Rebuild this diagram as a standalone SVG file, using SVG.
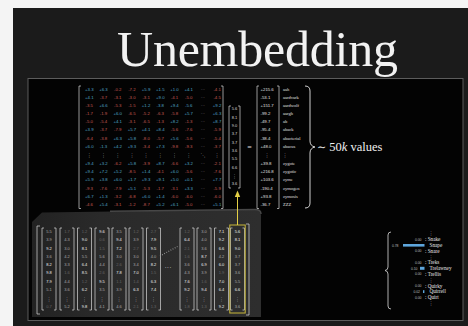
<svg xmlns="http://www.w3.org/2000/svg" width="468" height="326" viewBox="0 0 468 326">
<defs>
<style>
.mx{font-family:"Liberation Sans",Arial,sans-serif;font-size:4.3px;text-anchor:middle}
.p{fill:#52a7c9}.n{fill:#c85b55}.d{fill:#8a8a8a}
.vd{font-family:"DejaVu Sans",sans-serif;font-size:5px;fill:#bbb;text-anchor:middle}
.br{fill:none;stroke:#d8d8d8;stroke-width:0.7}
.ev{font-family:"Liberation Sans",Arial,sans-serif;font-size:4px;fill:#d8d8d8;text-anchor:middle}
.rv{font-family:"Liberation Sans",Arial,sans-serif;font-size:4.3px;fill:#e0e0e0}
.wd{font-family:"Liberation Serif","Times New Roman",serif;font-size:4.5px;fill:#e0e0e0}
.bv{font-family:"Liberation Sans",Arial,sans-serif;font-size:4px;text-anchor:middle}
.h{fill:#f0f0f0}.m{fill:#a8a8a8}.l{fill:#666}
.pw{font-family:"Liberation Serif","Times New Roman",serif;font-size:5.2px;fill:#e6e6e6}
.pn{font-family:"Liberation Sans",Arial,sans-serif;font-size:3.4px;fill:#bdbdbd;text-anchor:end}
.bar{fill:#5ea6dc}
</style>
<linearGradient id="gbox" x1="0" y1="0" x2="1" y2="0">
<stop offset="0" stop-color="#222"/>
<stop offset="0.3" stop-color="#2a2a2a"/>
<stop offset="1" stop-color="#2e2e2e"/>
</linearGradient>
</defs>

<rect x="0" y="0" width="468" height="326" fill="#f4f4f4"/>
<rect x="13" y="8" width="455" height="318" fill="#1b1b1b"/>
<rect x="28" y="78.5" width="435" height="242" fill="#030303" stroke="#5c5c5c" stroke-width="1"/>

<g id="title">
<text x="117" y="66" font-family="'Liberation Serif','Times New Roman',serif" font-size="50" fill="#f2f2f2" textLength="281" lengthAdjust="spacing">Unembedding</text>
</g>

<g id="unembedding-matrix">
<path class="br" d="M81,86 h-2 v122.5 h2"/>
<path class="br" d="M221,86 h2 v122.5 h-2"/>
<text class="mx" y="90.8"><tspan class="p" x="89.3">+3.3</tspan><tspan class="p" x="103.5">+6.3</tspan><tspan class="n" x="117.7">-0.2</tspan><tspan class="n" x="131.9">-7.2</tspan><tspan class="p" x="146.1">+5.9</tspan><tspan class="p" x="160.3">+1.5</tspan><tspan class="p" x="174.5">+1.0</tspan><tspan class="p" x="188.7">+4.1</tspan><tspan class="d" x="202.9">···</tspan><tspan class="n" x="217.1">-4.1</tspan></text>
<text class="mx" y="98.9"><tspan class="p" x="89.3">+4.1</tspan><tspan class="n" x="103.5">-3.7</tspan><tspan class="n" x="117.7">-3.1</tspan><tspan class="n" x="131.9">-3.0</tspan><tspan class="n" x="146.1">-3.1</tspan><tspan class="p" x="160.3">+9.0</tspan><tspan class="n" x="174.5">-4.1</tspan><tspan class="n" x="188.7">-5.0</tspan><tspan class="d" x="202.9">···</tspan><tspan class="n" x="217.1">-4.5</tspan></text>
<text class="mx" y="107"><tspan class="n" x="89.3">-3.5</tspan><tspan class="p" x="103.5">+6.6</tspan><tspan class="n" x="117.7">-5.3</tspan><tspan class="n" x="131.9">-1.5</tspan><tspan class="p" x="146.1">+1.2</tspan><tspan class="p" x="160.3">-3.8</tspan><tspan class="p" x="174.5">+9.4</tspan><tspan class="p" x="188.7">-5.6</tspan><tspan class="d" x="202.9">···</tspan><tspan class="p" x="217.1">+9.2</tspan></text>
<text class="mx" y="115.1"><tspan class="n" x="89.3">-1.7</tspan><tspan class="n" x="103.5">-1.9</tspan><tspan class="p" x="117.7">+6.0</tspan><tspan class="n" x="131.9">-6.5</tspan><tspan class="n" x="146.1">-5.2</tspan><tspan class="n" x="160.3">-6.3</tspan><tspan class="n" x="174.5">-5.8</tspan><tspan class="p" x="188.7">+5.7</tspan><tspan class="d" x="202.9">···</tspan><tspan class="p" x="217.1">+6.3</tspan></text>
<text class="mx" y="123.2"><tspan class="n" x="89.3">-5.0</tspan><tspan class="n" x="103.5">-5.4</tspan><tspan class="p" x="117.7">+4.1</tspan><tspan class="n" x="131.9">-3.1</tspan><tspan class="n" x="146.1">-6.5</tspan><tspan class="n" x="160.3">-1.3</tspan><tspan class="p" x="174.5">+8.2</tspan><tspan class="n" x="188.7">-1.3</tspan><tspan class="d" x="202.9">···</tspan><tspan class="p" x="217.1">+8.7</tspan></text>
<text class="mx" y="131.4"><tspan class="p" x="89.3">+3.9</tspan><tspan class="n" x="103.5">-3.7</tspan><tspan class="n" x="117.7">-7.9</tspan><tspan class="p" x="131.9">+5.7</tspan><tspan class="p" x="146.1">+4.1</tspan><tspan class="p" x="160.3">+8.4</tspan><tspan class="n" x="174.5">-5.6</tspan><tspan class="n" x="188.7">-7.6</tspan><tspan class="d" x="202.9">···</tspan><tspan class="n" x="217.1">-5.9</tspan></text>
<text class="mx" y="139.6"><tspan class="n" x="89.3">-6.4</tspan><tspan class="n" x="103.5">-3.8</tspan><tspan class="p" x="117.7">+6.3</tspan><tspan class="p" x="131.9">+5.8</tspan><tspan class="n" x="146.1">-8.0</tspan><tspan class="n" x="160.3">-5.7</tspan><tspan class="p" x="174.5">+5.6</tspan><tspan class="n" x="188.7">-5.6</tspan><tspan class="d" x="202.9">···</tspan><tspan class="n" x="217.1">-5.4</tspan></text>
<text class="mx" y="147.8"><tspan class="p" x="89.3">+6.0</tspan><tspan class="p" x="103.5">-1.3</tspan><tspan class="p" x="117.7">+4.2</tspan><tspan class="p" x="131.9">+9.3</tspan><tspan class="n" x="146.1">-3.4</tspan><tspan class="p" x="160.3">+7.3</tspan><tspan class="n" x="174.5">-9.8</tspan><tspan class="n" x="188.7">-9.3</tspan><tspan class="d" x="202.9">···</tspan><tspan class="n" x="217.1">-3.7</tspan></text>
<text class="vd" y="157.2"><tspan x="89.3">⋮</tspan><tspan x="103.5">⋮</tspan><tspan x="117.7">⋮</tspan><tspan x="131.9">⋮</tspan><tspan x="146.1">⋮</tspan><tspan x="160.3">⋮</tspan><tspan x="174.5">⋮</tspan><tspan x="188.7">⋮</tspan><tspan x="202.9">⋱</tspan><tspan x="217.1">⋮</tspan></text>
<text class="mx" y="165"><tspan class="p" x="89.3">+9.4</tspan><tspan class="p" x="103.5">+3.2</tspan><tspan class="n" x="117.7">-6.2</tspan><tspan class="p" x="131.9">+5.8</tspan><tspan class="n" x="146.1">-3.9</tspan><tspan class="p" x="160.3">+8.7</tspan><tspan class="n" x="174.5">-6.6</tspan><tspan class="p" x="188.7">+3.2</tspan><tspan class="d" x="202.9">···</tspan><tspan class="n" x="217.1">-2.1</tspan></text>
<text class="mx" y="173.2"><tspan class="p" x="89.3">+9.4</tspan><tspan class="p" x="103.5">+7.2</tspan><tspan class="p" x="117.7">+5.2</tspan><tspan class="n" x="131.9">-8.5</tspan><tspan class="p" x="146.1">+1.4</tspan><tspan class="n" x="160.3">-4.1</tspan><tspan class="p" x="174.5">+6.0</tspan><tspan class="n" x="188.7">-5.6</tspan><tspan class="d" x="202.9">···</tspan><tspan class="n" x="217.1">-7.6</tspan></text>
<text class="mx" y="181.4"><tspan class="p" x="89.3">+5.9</tspan><tspan class="p" x="103.5">+3.8</tspan><tspan class="p" x="117.7">+6.0</tspan><tspan class="p" x="131.9">+1.7</tspan><tspan class="p" x="146.1">+9.3</tspan><tspan class="p" x="160.3">+9.1</tspan><tspan class="p" x="174.5">+5.0</tspan><tspan class="p" x="188.7">+0.1</tspan><tspan class="d" x="202.9">···</tspan><tspan class="p" x="217.1">+7.7</tspan></text>
<text class="mx" y="189.6"><tspan class="n" x="89.3">-9.3</tspan><tspan class="n" x="103.5">-7.6</tspan><tspan class="n" x="117.7">-7.9</tspan><tspan class="p" x="131.9">+5.1</tspan><tspan class="n" x="146.1">-5.3</tspan><tspan class="n" x="160.3">-1.7</tspan><tspan class="n" x="174.5">-3.1</tspan><tspan class="p" x="188.7">+3.3</tspan><tspan class="d" x="202.9">···</tspan><tspan class="n" x="217.1">-5.9</tspan></text>
<text class="mx" y="197.8"><tspan class="p" x="89.3">+6.7</tspan><tspan class="p" x="103.5">+1.3</tspan><tspan class="n" x="117.7">-3.2</tspan><tspan class="n" x="131.9">-6.8</tspan><tspan class="p" x="146.1">+6.0</tspan><tspan class="p" x="160.3">+1.4</tspan><tspan class="n" x="174.5">-6.0</tspan><tspan class="n" x="188.7">-6.0</tspan><tspan class="d" x="202.9">···</tspan><tspan class="n" x="217.1">-6.0</tspan></text>
<text class="mx" y="205.9"><tspan class="n" x="89.3">-4.6</tspan><tspan class="p" x="103.5">+5.4</tspan><tspan class="n" x="117.7">-3.1</tspan><tspan class="n" x="131.9">-1.2</tspan><tspan class="n" x="146.1">-8.7</tspan><tspan class="p" x="160.3">+5.2</tspan><tspan class="p" x="174.5">+6.1</tspan><tspan class="n" x="188.7">-5.0</tspan><tspan class="d" x="202.9">···</tspan><tspan class="p" x="217.1">+5.1</tspan></text>
</g>

<g id="embedding-vector">
<path class="br" d="M231,106 h-2 v82 h2"/>
<path class="br" d="M238,106 h2 v82 h-2"/>
<text class="ev" y="110.4"><tspan x="234.5">5.6</tspan></text>
<text class="ev" y="118.7"><tspan x="234.5">8.1</tspan></text>
<text class="ev" y="127"><tspan x="234.5">9.0</tspan></text>
<text class="ev" y="135.3"><tspan x="234.5">3.7</tspan></text>
<text class="ev" y="143.6"><tspan x="234.5">3.7</tspan></text>
<text class="ev" y="151.9"><tspan x="234.5">3.6</tspan></text>
<text class="ev" y="160.2"><tspan x="234.5">5.5</tspan></text>
<text class="ev" y="168.5"><tspan x="234.5">6.6</tspan></text>
<text class="vd" y="177.5" x="234.5">⋮</text>
<text class="ev" y="185.4"><tspan x="234.5">3.6</tspan></text>
</g>

<g id="equals">
<text x="249.5" y="149.5" font-family="'Liberation Serif',serif" font-size="8" fill="#ddd" text-anchor="middle">=</text>
</g>

<g id="logits">
<path class="br" d="M259,86 h-2 v122.5 h2"/>
<path class="br" d="M277,86 h2 v122.5 h-2"/>
<text class="rv" x="260.5" y="90.8">+215.6</text>
<text class="rv" x="260.5" y="98.9">-53.1</text>
<text class="rv" x="260.5" y="107">+151.7</text>
<text class="rv" x="260.5" y="115.1">-99.2</text>
<text class="rv" x="260.5" y="123.2">-49.7</text>
<text class="rv" x="260.5" y="131.4">-95.4</text>
<text class="rv" x="260.5" y="139.6">-38.4</text>
<text class="rv" x="260.5" y="147.8">+48.0</text>
<text class="vd" x="267" y="157.2">⋮</text>
<text class="rv" x="260.5" y="165">+39.8</text>
<text class="rv" x="260.5" y="173.2">+216.8</text>
<text class="rv" x="260.5" y="181.4">+103.6</text>
<text class="rv" x="260.5" y="189.6">-190.4</text>
<text class="rv" x="260.5" y="197.8">+93.8</text>
<text class="rv" x="260.5" y="205.9">-36.7</text>
<text class="wd" x="283" y="90.8">aah</text>
<text class="wd" x="283" y="98.9">aardvark</text>
<text class="wd" x="283" y="107">aardwolf</text>
<text class="wd" x="283" y="115.1">aargh</text>
<text class="wd" x="283" y="123.2">ab</text>
<text class="wd" x="283" y="131.4">aback</text>
<text class="wd" x="283" y="139.6">abacterial</text>
<text class="wd" x="283" y="147.8">abacus</text>
<text class="vd" x="285" y="157.2">⋮</text>
<text class="wd" x="283" y="165">zygote</text>
<text class="wd" x="283" y="173.2">zygotic</text>
<text class="wd" x="283" y="181.4">zyme</text>
<text class="wd" x="283" y="189.6">zymogen</text>
<text class="wd" x="283" y="197.8">zymosis</text>
<text class="wd" x="283" y="205.9">ZZZ</text>
<path d="M305,86 q5,0 5,5 v50 q0,5 5,6 q-5,1 -5,6 v50 q0,5 -5,5" fill="none" stroke="#e6e6e6" stroke-width="0.9"/>
<text x="317" y="151" font-family="'Liberation Serif','DejaVu Serif',serif" font-size="12.5" fill="#f0f0f0"><tspan font-family="'DejaVu Serif',serif" font-size="11">∼</tspan> 50<tspan font-style="italic">k</tspan> values</text>
</g>

<g id="embeddings-box">
<path d="M42,212.5 L255,209.5 Q261,209.5 261,215.5 L261,317 L32,317 L32,222 Z" fill="url(#gbox)"/>
<path d="M110,211.2 L255,209.5 Q261,209.5 261,214" fill="none" stroke="#474747" stroke-width="1.5"/>
<path class="br" d="M40,226 h-3 v88 h3"/>
<path class="br" d="M246,224 h3 v91 h-3"/>
<g class="br">
<path d="M44,228 h-2 v82 h2 M54,228 h2 v82 h-2"/>
<path d="M62,228 h-2 v82 h2 M72,228 h2 v82 h-2"/>
<path d="M79.5,228 h-2 v82 h2 M89.5,228 h2 v82 h-2"/>
<path d="M97,228 h-2 v82 h2 M107,228 h2 v82 h-2"/>
<path d="M114,228 h-2 v82 h2 M124,228 h2 v82 h-2"/>
<path d="M131,228 h-2 v82 h2 M141,228 h2 v82 h-2"/>
<path d="M148.5,228 h-2 v82 h2 M158.5,228 h2 v82 h-2"/>
<path d="M182,228 h-2 v82 h2 M192,228 h2 v82 h-2"/>
<path d="M199,228 h-2 v82 h2 M209,228 h2 v82 h-2"/>
<path d="M216.5,228 h-2 v82 h2 M226.5,228 h2 v82 h-2"/>
<path d="M232.5,228 h-2 v82 h2 M242.5,228 h2 v82 h-2"/>
</g>
<rect x="229.8" y="225" width="15.4" height="88" fill="none" stroke="#c9b83a" stroke-width="1"/>
<line x1="160" y1="256" x2="177.5" y2="246.5" stroke="#9a9a9a" stroke-width="1.2" stroke-dasharray="0.8 1.6"/>
<text x="168" y="269.5" font-family="'Liberation Sans',sans-serif" font-size="7" fill="#bbb" text-anchor="middle">···</text>
<text class="bv" y="232.9"><tspan class="m" x="49">5.5</tspan><tspan class="l" x="67">1.7</tspan><tspan class="l" x="84.5">1.2</tspan><tspan class="h" x="102">9.6</tspan><tspan class="m" x="119">3.5</tspan><tspan class="l" x="136">1.2</tspan><tspan class="l" x="153.5">2.7</tspan><tspan class="l" x="187">1.2</tspan><tspan class="m" x="204">3.0</tspan><tspan class="h" x="221.5">7.1</tspan><tspan class="h" x="237.5">5.6</tspan></text>
<text class="bv" y="241.2"><tspan class="m" x="49">3.9</tspan><tspan class="m" x="67">4.3</tspan><tspan class="h" x="84.5">9.0</tspan><tspan class="l" x="102">0.6</tspan><tspan class="h" x="119">9.4</tspan><tspan class="m" x="136">3.9</tspan><tspan class="h" x="153.5">7.9</tspan><tspan class="h" x="187">6.4</tspan><tspan class="m" x="204">4.0</tspan><tspan class="h" x="221.5">9.2</tspan><tspan class="h" x="237.5">8.1</tspan></text>
<text class="bv" y="249.5"><tspan class="h" x="49">9.2</tspan><tspan class="m" x="67">3.0</tspan><tspan class="h" x="84.5">8.1</tspan><tspan class="l" x="102">1.5</tspan><tspan class="h" x="119">7.2</tspan><tspan class="l" x="136">2.7</tspan><tspan class="h" x="153.5">9.5</tspan><tspan class="l" x="187">2.1</tspan><tspan class="m" x="204">3.6</tspan><tspan class="h" x="221.5">6.6</tspan><tspan class="h" x="237.5">9.0</tspan></text>
<text class="bv" y="257.8"><tspan class="m" x="49">3.6</tspan><tspan class="m" x="67">4.2</tspan><tspan class="m" x="84.5">5.5</tspan><tspan class="m" x="102">5.6</tspan><tspan class="m" x="119">3.0</tspan><tspan class="m" x="136">3.0</tspan><tspan class="m" x="153.5">4.0</tspan><tspan class="l" x="187">1.6</tspan><tspan class="h" x="204">8.7</tspan><tspan class="m" x="221.5">4.2</tspan><tspan class="m" x="237.5">3.7</tspan></text>
<text class="bv" y="266.1"><tspan class="h" x="49">8.2</tspan><tspan class="m" x="67">3.3</tspan><tspan class="h" x="84.5">6.4</tspan><tspan class="m" x="102">4.4</tspan><tspan class="l" x="119">2.6</tspan><tspan class="m" x="136">3.4</tspan><tspan class="h" x="153.5">8.2</tspan><tspan class="m" x="187">3.6</tspan><tspan class="h" x="204">6.9</tspan><tspan class="h" x="221.5">6.0</tspan><tspan class="m" x="237.5">3.7</tspan></text>
<text class="bv" y="274.4"><tspan class="h" x="49">9.8</tspan><tspan class="l" x="67">1.6</tspan><tspan class="h" x="84.5">8.5</tspan><tspan class="l" x="102">2.6</tspan><tspan class="h" x="119">7.8</tspan><tspan class="h" x="136">7.0</tspan><tspan class="l" x="153.5">1.5</tspan><tspan class="m" x="187">4.3</tspan><tspan class="m" x="204">3.9</tspan><tspan class="l" x="221.5">1.9</tspan><tspan class="m" x="237.5">3.6</tspan></text>
<text class="bv" y="282.7"><tspan class="h" x="49">7.9</tspan><tspan class="m" x="67">4.4</tspan><tspan class="l" x="84.5">1.2</tspan><tspan class="h" x="102">9.5</tspan><tspan class="l" x="119">1.1</tspan><tspan class="l" x="136">1.4</tspan><tspan class="h" x="153.5">6.3</tspan><tspan class="h" x="187">7.6</tspan><tspan class="l" x="204">1.6</tspan><tspan class="h" x="221.5">7.0</tspan><tspan class="m" x="237.5">5.5</tspan></text>
<text class="bv" y="291"><tspan class="m" x="49">5.1</tspan><tspan class="m" x="67">3.6</tspan><tspan class="h" x="84.5">6.2</tspan><tspan class="m" x="102">3.5</tspan><tspan class="m" x="119">3.9</tspan><tspan class="h" x="136">6.3</tspan><tspan class="h" x="153.5">7.4</tspan><tspan class="h" x="187">9.2</tspan><tspan class="h" x="204">9.4</tspan><tspan class="h" x="221.5">6.4</tspan><tspan class="h" x="237.5">6.6</tspan></text>
<text class="vd" y="300.5"><tspan x="49">⋮</tspan><tspan x="67">⋮</tspan><tspan x="84.5">⋮</tspan><tspan x="102">⋮</tspan><tspan x="119">⋮</tspan><tspan x="136">⋮</tspan><tspan x="153.5">⋮</tspan><tspan x="187">⋮</tspan><tspan x="204">⋮</tspan><tspan x="221.5">⋮</tspan><tspan x="237.5">⋮</tspan></text>
<text class="bv" y="308.3"><tspan class="l" x="49">0.7</tspan><tspan class="m" x="67">5.2</tspan><tspan class="h" x="84.5">9.8</tspan><tspan class="m" x="102">4.1</tspan><tspan class="m" x="119">4.6</tspan><tspan class="l" x="136">2.1</tspan><tspan class="l" x="153.5">1.3</tspan><tspan class="l" x="187">1.8</tspan><tspan class="l" x="204">1.3</tspan><tspan class="h" x="221.5">9.2</tspan><tspan class="m" x="237.5">3.6</tspan></text>
</g>

<g id="connectors">
<line x1="237.5" y1="225" x2="237.5" y2="196" stroke="#e3cf45" stroke-width="1"/>
<polygon points="237.5,190.5 234.8,197 240.2,197" fill="#e3cf45"/>
</g>

<g id="probabilities">
<path d="M391,232 q-3,0 -3,3 v32 q0,3 -3,3.5 q3,0.5 3,3.5 v32 q0,3 3,3" fill="none" stroke="#dcdcdc" stroke-width="0.8"/>
<text class="vd" x="431" y="235">⋮</text>
<text class="pn" x="421.5" y="240.7">0.00</text><text class="pw" x="425" y="241.2">: Snake</text>
<text class="pn" x="398.5" y="246.5">0.78</text><rect class="bar" x="403" y="244" width="21.5" height="2.6"/><text class="pw" x="429.5" y="247">Snape</text>
<text class="pn" x="421.5" y="252.3">0.00</text><text class="pw" x="425" y="252.8">: Snare</text>
<text class="vd" x="431" y="258.5">⋮</text>
<text class="pn" x="421.5" y="263.8">0.00</text><text class="pw" x="425" y="264.3">: Treks</text>
<text class="pn" x="417.5" y="269.6">0.10</text><rect class="bar" x="420" y="266.8" width="4.5" height="3"/><text class="pw" x="429.5" y="270.1">Trelawney</text>
<text class="pn" x="421.5" y="275.4">0.00</text><text class="pw" x="425" y="275.9">: Trellis</text>
<text class="vd" x="431" y="281.7">⋮</text>
<text class="pn" x="421.5" y="287">0.00</text><text class="pw" x="425" y="287.5">: Quirky</text>
<text class="pn" x="420" y="292.8">0.02</text><rect class="bar" x="423" y="290.2" width="1.4" height="2.8"/><text class="pw" x="429.5" y="293.3">Quirrell</text>
<text class="pn" x="421.5" y="298.6">0.00</text><text class="pw" x="425" y="299.1">: Quirt</text>
<text class="vd" x="431" y="305">⋮</text>
</g>
</svg>
